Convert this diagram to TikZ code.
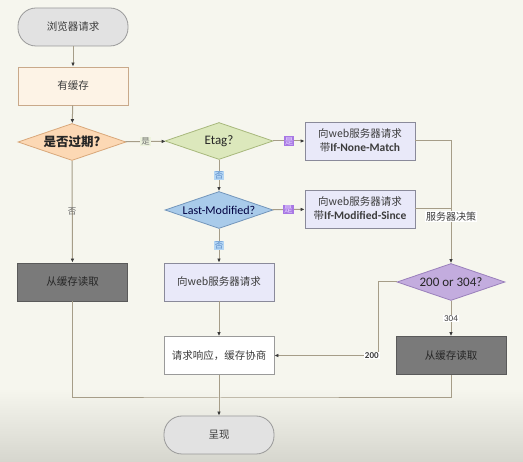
\documentclass[tikz,border=0pt]{standalone}
\usepackage{fontspec}
\setmainfont{Noto Sans CJK SC}
\newfontfamily\latfont{Carlito}
\usepackage{tikz}
\usetikzlibrary{arrows.meta}
\usetikzlibrary{shapes.geometric}
\definecolor{bgcol}{HTML}{F6F6EE}
\definecolor{bgbot}{HTML}{D6D6CE}
\definecolor{linecol}{HTML}{A69D88}
\definecolor{tipcol}{HTML}{3A3A3A}
\definecolor{termfill}{HTML}{E2E2E2}
\definecolor{termdraw}{HTML}{9A9A9A}
\definecolor{hasfill}{HTML}{FDF3E6}
\definecolor{hasdraw}{HTML}{C9A98A}
\definecolor{expfill}{HTML}{FCD8B4}
\definecolor{expdraw}{HTML}{D9A87A}
\definecolor{etagfill}{HTML}{DCE8BC}
\definecolor{etagdraw}{HTML}{A8B87C}
\definecolor{lmfill}{HTML}{A9CBEA}
\definecolor{lmdraw}{HTML}{7396BB}
\definecolor{reqfill}{HTML}{E9E9F9}
\definecolor{reqdraw}{HTML}{8A8A9A}
\definecolor{decfill}{HTML}{C3ACDE}
\definecolor{decdraw}{HTML}{9A80BB}
\definecolor{darkfill}{HTML}{7A7A7A}
\definecolor{darkdraw}{HTML}{5A5A5A}
\definecolor{txtcol}{HTML}{3C3C3C}
\definecolor{yesfill}{HTML}{A878E4}
\definecolor{yestext}{HTML}{E6D6FF}
\definecolor{nofill}{HTML}{B4D6F4}
\definecolor{notext}{HTML}{5C8CC8}
\tikzset{>={Latex[length=4pt,width=3.6pt,color=tipcol]}}
\tikzstyle{flow} = [draw=linecol, line width=1pt]
\tikzstyle{term} = [rectangle, rounded corners=18pt, draw=termdraw, fill=termfill, line width=0.8pt, minimum width=110pt, minimum height=38pt, text=txtcol, font=\fontsize{10.5}{12}\selectfont]
\tikzstyle{proc} = [rectangle, line width=0.8pt, minimum width=110pt, minimum height=38pt, inner sep=2pt, text=txtcol, align=center, font=\fontsize{10.5}{14}\selectfont]
\tikzstyle{decide} = [diamond, shape aspect=3, inner sep=0pt, line width=0.8pt, minimum width=108pt, minimum height=37pt, text=black!85, font=\fontsize{12.5}{14}\selectfont]
\tikzstyle{tag} = [inner sep=1pt, font=\fontsize{8.5}{9}\selectfont]
\tikzstyle{yestag} = [tag, fill=yesfill, text=yestext]
\tikzstyle{notag} = [tag, fill=nofill, text=notext]

\begin{document}
\begin{tikzpicture}[x=1pt, y=-1pt]
\fill [bgcol] (0,0) rectangle (523,462);
\shade [top color=bgcol, bottom color=bgbot] (0,388) rectangle (523,462);

\node [term] (start) at (73,27) {浏览器请求};
\node [proc, fill=hasfill, draw=hasdraw] (has) at (73,86) {有缓存};
\node [decide, fill=expfill, draw=expdraw, font=\bfseries\fontsize{12.5}{14}\selectfont] (expire) at (72,142) {是否过期?};
\node [decide, fill=etagfill, draw=etagdraw, font=\latfont\fontsize{13}{14}\selectfont] (etag) at (219,141) {Etag?};
\node [decide, fill=lmfill, draw=lmdraw, text=black!75!blue, font=\latfont\fontsize{12}{14}\selectfont] (lm) at (219,210) {Last-Modified?};
\node [proc, fill=reqfill, draw=reqdraw] (reqE) at (360,141) {向web服务器请求\\带{\latfont\bfseries\fontsize{11.5}{14}\selectfont If-None-Match}};
\node [proc, fill=reqfill, draw=reqdraw] (reqL) at (360,209) {向web服务器请求\\带{\latfont\bfseries\fontsize{11.5}{14}\selectfont If-Modified-Since}};
\node [proc, fill=darkfill, draw=darkdraw, text=black!85] (cacheL) at (72.5,282) {从缓存读取};
\node [proc, fill=reqfill, draw=reqdraw] (web) at (219,282) {向web服务器请求};
\node [decide, fill=decfill, draw=decdraw, font=\latfont\fontsize{13}{14}\selectfont] (dec) at (451,282) {200 or 304?};
\node [proc, fill=white, draw=termdraw] (resp) at (219,355.5) {请求响应，缓存协商};
\node [proc, fill=darkfill, draw=darkdraw, text=black!85] (cacheR) at (451,355.5) {从缓存读取};
\node [term] (show) at (219,435) {呈现};
\coordinate (bend) at (378,282);
\coordinate (merge) at (219,398);

\draw [flow, ->] (start) to (has);
\draw [flow, ->] (has) to (expire);
\draw [flow, ->] (expire) to node [tag, fill=etagfill!50, text=black!55] {是} (etag);
\draw [flow, ->] (expire) to node [tag, text=black!60] {否} (cacheL);
\draw [flow, ->] (etag) to node [yestag] {是} (reqE);
\draw [flow, ->] (etag) to node [notag] {否} (lm);
\draw [flow, ->] (lm) to node [yestag] {是} (reqL);
\draw [flow, ->] (lm) to node [notag] {否} (web);
\draw [flow, ->] (web) to (resp);
\draw [flow] (reqL.east) -- (reqL.east -| dec.north);
\draw [flow, ->] (reqE) -| node [pos=0.81, tag, fill=white, text=txtcol, font=\fontsize{10}{11}\selectfont] {服务器决策} (dec);
\draw [flow, ->] (dec) to node [tag, fill=white, text=txtcol, font=\latfont\fontsize{9}{10}\selectfont] {304} (cacheR);
\draw [flow, ->] (dec) -- (bend) |- node [pos=0.53, tag, fill=white, text=txtcol, font=\latfont\bfseries\fontsize{9}{10}\selectfont] {200} (resp);
\draw [flow] (cacheL) |- (merge) -| (cacheR);
\draw [flow, ->] (resp) to (show);
\end{tikzpicture}
\end{document}
